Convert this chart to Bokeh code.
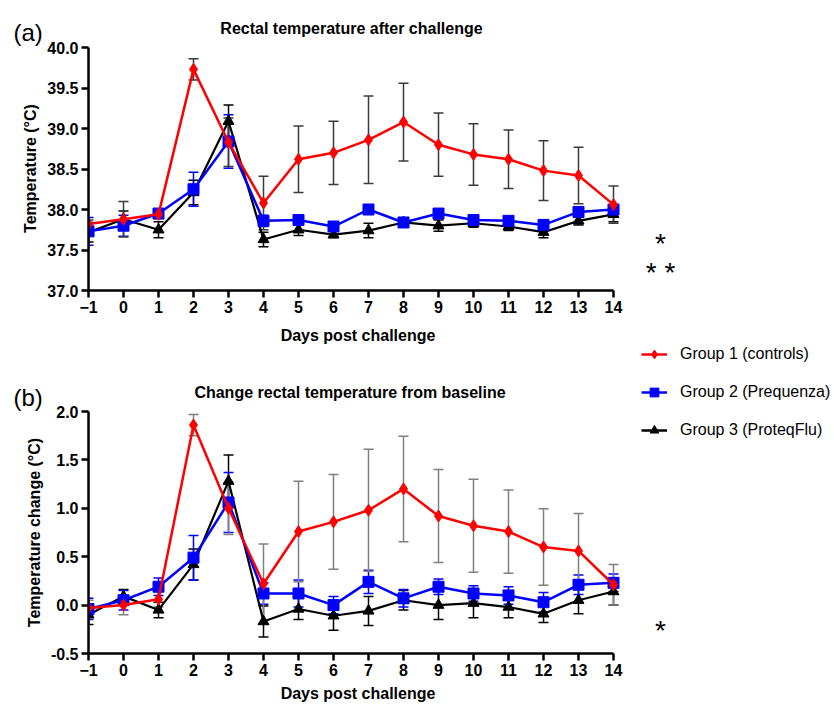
import math
from bokeh.plotting import figure
from bokeh.layouts import column, row
from bokeh.models import (ColumnDataSource, Whisker, TeeHead, Label, Legend,
                          LegendItem, FixedTicker, NumeralTickFormatter, Range1d)
from bokeh.embed import file_html
from bokeh.resources import INLINE

# ---------------- data ----------------
days = list(range(-1, 15))

# (a) rectal temperature (mean, error)
a_ctrl = [37.82, 37.88, 37.94, 39.73, 38.83, 38.08, 38.62, 38.70, 38.86, 39.08,
          38.80, 38.68, 38.62, 38.48, 38.42, 38.06]
a_ctrl_err = [0.05, 0.22, 0.05, 0.13, 0.30, 0.33, 0.41, 0.39, 0.54, 0.48,
              0.39, 0.38, 0.36, 0.37, 0.35, 0.23]
a_preq = [37.73, 37.80, 37.95, 38.25, 38.84, 37.86, 37.87, 37.79, 38.00, 37.84,
          37.95, 37.87, 37.86, 37.81, 37.97, 38.00]
a_preq_err = [0.17, 0.13, 0.05, 0.21, 0.33, 0.07, 0.05, 0.06, 0.06, 0.04,
              0.06, 0.05, 0.05, 0.06, 0.05, 0.05]
a_prot = [37.72, 37.88, 37.75, 38.21, 39.09, 37.63, 37.75, 37.69, 37.74, 37.84,
          37.80, 37.83, 37.79, 37.72, 37.86, 37.94]
a_prot_err = [0.12, 0.10, 0.10, 0.15, 0.20, 0.09, 0.07, 0.04, 0.09, 0.05,
              0.07, 0.05, 0.05, 0.07, 0.05, 0.09]

# (b) change from baseline (mean, error)
b_ctrl = [-0.03, 0.00, 0.06, 1.86, 1.00, 0.22, 0.76, 0.86, 0.98, 1.20,
          0.92, 0.82, 0.76, 0.60, 0.56, 0.21]
b_ctrl_err = [0.08, 0.10, 0.08, 0.11, 0.27, 0.41, 0.52, 0.49, 0.63, 0.545,
              0.48, 0.48, 0.43, 0.395, 0.385, 0.21]
b_preq = [-0.04, 0.05, 0.19, 0.49, 1.06, 0.12, 0.12, 0.00, 0.24, 0.07,
          0.19, 0.12, 0.10, 0.03, 0.21, 0.23]
b_preq_err = [0.11, 0.10, 0.09, 0.23, 0.31, 0.11, 0.14, 0.09, 0.12, 0.09,
              0.08, 0.08, 0.09, 0.10, 0.10, 0.09]
b_prot = [-0.10, 0.09, -0.05, 0.42, 1.28, -0.17, -0.04, -0.11, -0.06, 0.05,
          0.00, 0.02, -0.02, -0.09, 0.05, 0.14]
b_prot_err = [0.10, 0.07, 0.08, 0.16, 0.27, 0.16, 0.11, 0.15, 0.15, 0.10,
              0.15, 0.15, 0.11, 0.09, 0.14, 0.14]

group_names = ["Group 1 (controls)", "Group 2 (Prequenza)", "Group 3 (ProteqFlu)"]
a_yticks = [37.0, 37.5, 38.0, 38.5, 39.0, 39.5, 40.0]
b_yticks = [-0.5, 0.0, 0.5, 1.0, 1.5, 2.0]

FONT = "Liberation Sans"
TXT = "#000000"
RED, BLUE, BLACK = "#ff0000", "#0000ff", "#000000"
STRIP_W = 44      # left strip: panel tags and y-axis titles
MID_W = 583       # panels
SIDE_W = 207      # right strip: significance marks and legend
TOTAL_H = 705


def blank(width, height, left=0, xr=(0, 1), yr=(0, 1)):
    """A figure whose frame fills the canvas (except `left`), used for free text."""
    f = figure(width=width, height=height, x_range=Range1d(*xr),
               y_range=Range1d(*yr), output_backend="svg",
               toolbar_location=None, x_axis_type=None, y_axis_type=None,
               min_border=0, min_border_left=left, min_border_right=0,
               min_border_top=0, min_border_bottom=0)
    f.outline_line_color = None
    f.grid.visible = False
    return f


def make_panel(yr, yticks, height, top, bottom, xlab_standoff):
    p = figure(width=MID_W, height=height, x_range=Range1d(-1, 14.4),
               y_range=Range1d(yr[0], yr[1]), output_backend="svg",
               toolbar_location=None, min_border_left=STRIP_W, min_border_right=0,
               min_border_top=top, min_border_bottom=bottom)
    p.outline_line_color = None
    p.grid.visible = False
    for ax in (p.xaxis, p.yaxis):
        ax.axis_line_width = 2.5
        ax.axis_line_color = TXT
        ax.major_tick_line_width = 2.5
        ax.major_tick_line_color = TXT
        ax.major_tick_out = 7
        ax.major_tick_in = 0
        ax.minor_tick_line_color = None
        ax.major_label_text_font = FONT
        ax.major_label_text_font_size = "16px"
        ax.major_label_text_font_style = "bold"
        ax.major_label_text_color = TXT
        ax.major_label_standoff = 3
        ax.axis_label_text_font = FONT
        ax.axis_label_text_font_size = "16px"
        ax.axis_label_text_font_style = "bold"
        ax.axis_label_text_color = TXT
    p.xaxis.ticker = FixedTicker(ticks=days)
    p.xaxis.bounds = (-1, 14)
    p.xaxis.axis_label = "Days post challenge"
    p.xaxis.axis_label_standoff = xlab_standoff
    p.yaxis.ticker = FixedTicker(ticks=yticks)
    p.yaxis.formatter = NumeralTickFormatter(format="0.0")
    p.yaxis.bounds = yr
    return p


def add_group(p, y, err, color, marker, size, bar_color, lw):
    lo = [v - e for v, e in zip(y, err)]
    hi = [v + e for v, e in zip(y, err)]
    src = ColumnDataSource(dict(x=days, y=y, lo=lo, hi=hi))
    w = Whisker(base="x", upper="hi", lower="lo", source=src, dimension="height",
                line_color=bar_color, line_width=1.5,
                upper_head=TeeHead(size=10, line_color=bar_color, line_width=1.5),
                lower_head=TeeHead(size=10, line_color=bar_color, line_width=1.5))
    p.add_layout(w)
    lr = p.line("x", "y", source=src, line_color=color, line_width=lw)
    sr = p.scatter("x", "y", source=src, marker=marker, size=size,
                   fill_color=color, line_color=color)
    return lr, sr


def header(title, height, title_x, title_y):
    h = blank(MID_W, height, left=STRIP_W)
    h.add_layout(Label(x=title_x, y=title_y, x_units="screen", y_units="screen",
                       text=title, text_font=FONT, text_font_size="16px",
                       text_font_style="bold", text_align="center",
                       text_baseline="middle", text_color=TXT))
    return h


# ---------------- panel (a) ----------------
ha = header("Rectal temperature after challenge", 39, 263, 11)
pa = make_panel((37.0, 40.0), a_yticks, 308, 8, 57, 11)
add_group(pa, a_prot, a_prot_err, BLACK, "triangle", 11, BLACK, 2.2)
add_group(pa, a_preq, a_preq_err, BLUE, "square", 11, BLUE, 2.5)
add_group(pa, a_ctrl, a_ctrl_err, RED, "diamond", 12, "#3a3a3a", 2.5)

# ---------------- panel (b) ----------------
hb = header("Change rectal temperature from baseline", 56, 261.5, 11)
pb = make_panel((-0.5, 2.0), b_yticks, 302, 8, 52, 6)
add_group(pb, b_prot, b_prot_err, BLACK, "triangle", 11, BLACK, 2.2)
add_group(pb, b_preq, b_preq_err, BLUE, "square", 11, BLUE, 2.5)
add_group(pb, b_ctrl, b_ctrl_err, RED, "diamond", 12, "#808080", 2.5)

# ---------------- left strip: panel tags and y-axis titles ----------------
strip = blank(STRIP_W, TOTAL_H)
for tag, yy in (("(a)", 672.8), ("(b)", 308.3)):
    strip.add_layout(Label(x=13, y=yy, x_units="screen", y_units="screen", text=tag,
                           text_font=FONT, text_font_size="24px",
                           text_baseline="alphabetic", text_color=TXT))
for txt, xx, yy in (("Temperature (°C)", 30, 537), ("Temperature change (°C)", 34, 173)):
    strip.add_layout(Label(x=xx, y=yy, x_units="screen", y_units="screen", text=txt,
                           angle=math.pi / 2, text_font=FONT, text_font_size="16px",
                           text_font_style="bold", text_align="center",
                           text_baseline="middle", text_color=TXT))

# ---------------- right strip: significance marks and legend ----------------
# ranges chosen away from the data so the legend proxies stay off-canvas
side = blank(SIDE_W, TOTAL_H, xr=(100, 100 + SIDE_W), yr=(100, 100 + TOTAL_H))
for txt, yy in (("*", 462.5), ("* *", 433.5), ("*", 75.5)):
    side.add_layout(Label(x=33, y=yy, x_units="screen", y_units="screen", text=txt,
                          text_font=FONT, text_font_size="28px", text_align="center",
                          text_baseline="alphabetic", text_color=TXT))

series = [(a_ctrl, RED, "diamond", 12), (a_preq, BLUE, "square", 11),
          (a_prot, BLACK, "triangle", 11)]
items = []
for name, (vals, c, m, s) in zip(group_names, series):
    lr = side.line(x=days, y=vals, line_color=c, line_width=2.5)
    sr = side.scatter(x=days, y=vals, marker=m, size=s, fill_color=c, line_color=c)
    items.append(LegendItem(label=name, renderers=[lr, sr]))
legend = Legend(items=items, location=(14, 264), padding=0, margin=0, spacing=16,
                glyph_width=26, glyph_height=22, label_height=22, label_standoff=13,
                label_text_font=FONT, label_text_font_size="16px",
                label_text_color=TXT,
                border_line_color=None, background_fill_alpha=0)
side.add_layout(legend)

layout = row(strip, column(ha, pa, hb, pb), side)
open("out.html", "w").write(file_html(layout, INLINE))
